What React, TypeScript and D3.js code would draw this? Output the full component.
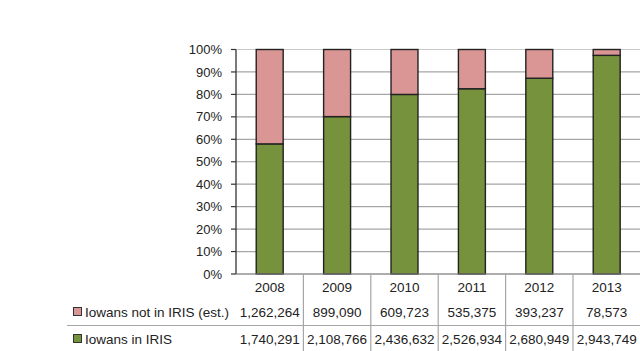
import React from 'react';
import * as d3 from 'd3';

const years = ['2008', '2009', '2010', '2011', '2012', '2013'];
const notInIris = [1262264, 899090, 609723, 535375, 393237, 78573];
const inIris = [1740291, 2108766, 2436632, 2526934, 2680949, 2943749];
const seriesNames = ['Iowans not in IRIS (est.)', 'Iowans in IRIS'];
const yTicks = [0, 0.1, 0.2, 0.3, 0.4, 0.5, 0.6, 0.7, 0.8, 0.9, 1];

const WIDTH = 640;
const HEIGHT = 351;
const GREEN = '#76923c';
const PINK = '#d99694';
const GRID = '#a6a6a6';
const FONT = '"Liberation Sans", Arial, sans-serif';

const App: React.FC = () => {
  const plot = { left: 236, right: 640.4, top: 49.5, bottom: 274 };

  const rows = years.map((year, i) => ({ year, inIris: inIris[i], notInIris: notInIris[i] }));
  const stack = d3
    .stack<{ year: string; inIris: number; notInIris: number }>()
    .keys(['inIris', 'notInIris'])
    .offset(d3.stackOffsetExpand);
  const layers = stack(rows);

  const x = d3
    .scaleBand<string>()
    .domain(years)
    .range([plot.left, plot.right])
    .paddingInner(0.6)
    .paddingOuter(0.3);
  const step = x.step();
  const y = d3.scaleLinear().domain([0, 1]).range([plot.bottom, plot.top]);
  const fmtPct = d3.format('.0%');
  const fmtNum = d3.format(',');

  const cellLeft = (yr: string) => (x(yr) as number) - step * 0.3;
  const cellCenter = (yr: string) => (x(yr) as number) + x.bandwidth() / 2;

  const colors = [GREEN, PINK];

  // table rows
  const yearRowY = 287;
  const row1Y = 312;
  const row2Y = 339;
  const dividerY = 325.5;

  return (
    <svg
      width={WIDTH}
      height={HEIGHT}
      style={{ position: 'absolute', left: 0, top: 0, display: 'block', background: '#fff' }}
      fontFamily={FONT}
    >
      {/* gridlines */}
      {yTicks.map((t) => (
        <line
          key={`g${t}`}
          x1={plot.left}
          x2={WIDTH}
          y1={y(t)}
          y2={y(t)}
          stroke={t === 1 ? '#c8c8c8' : GRID}
          strokeWidth={1.2}
        />
      ))}

      {/* bars */}
      {layers.map((layer, li) =>
        layer.map((d) => (
          <rect
            key={`${li}-${d.data.year}`}
            x={x(d.data.year)}
            width={x.bandwidth()}
            y={y(d[1])}
            height={y(d[0]) - y(d[1])}
            fill={colors[li]}
            stroke="#222"
            strokeWidth={1.4}
          />
        ))
      )}

      {/* y axis */}
      <line x1={plot.left} x2={plot.left} y1={plot.top} y2={plot.bottom} stroke="#333" strokeWidth={1.3} />
      {yTicks.map((t) => (
        <g key={`t${t}`}>
          <line x1={plot.left - 5} x2={plot.left} y1={y(t)} y2={y(t)} stroke="#333" strokeWidth={1.2} />
          <text
            x={plot.left - 14}
            y={y(t)}
            dy="0.35em"
            textAnchor="end"
            fontSize={13}
            fill="#222"
          >
            {fmtPct(t)}
          </text>
        </g>
      ))}

      {/* x axis / table top */}
      <line x1={plot.left} x2={WIDTH} y1={plot.bottom} y2={plot.bottom} stroke="#888" strokeWidth={1.2} />

      {/* table vertical lines */}
      {years.slice(1).map((yr) => (
        <line
          key={`v${yr}`}
          x1={cellLeft(yr)}
          x2={cellLeft(yr)}
          y1={plot.bottom}
          y2={HEIGHT}
          stroke={GRID}
          strokeWidth={1.2}
        />
      ))}
      <line x1={67} x2={WIDTH} y1={dividerY} y2={dividerY} stroke={GRID} strokeWidth={1.2} />

      {/* year labels */}
      {years.map((yr) => (
        <text key={`y${yr}`} x={cellCenter(yr)} y={yearRowY} dy="0.35em" textAnchor="middle" fontSize={13.5} fill="#222">
          {yr}
        </text>
      ))}

      {/* legend keys and names */}
      {[PINK, GREEN].map((c, i) => (
        <g key={`l${i}`}>
          <rect
            x={73.5}
            y={(i === 0 ? row1Y : row2Y) - 4.5}
            width={8}
            height={8}
            fill={c}
            stroke="#333"
            strokeWidth={1}
          />
          <text x={85} y={i === 0 ? row1Y : row2Y} dy="0.35em" fontSize={13.5} fill="#222">
            {seriesNames[i]}
          </text>
        </g>
      ))}

      {/* values */}
      {years.map((yr, i) => (
        <g key={`d${yr}`}>
          <text x={cellCenter(yr)} y={row1Y} dy="0.35em" textAnchor="middle" fontSize={13.5} fill="#222">
            {fmtNum(notInIris[i])}
          </text>
          <text x={cellCenter(yr)} y={row2Y} dy="0.35em" textAnchor="middle" fontSize={13.5} fill="#222">
            {fmtNum(inIris[i])}
          </text>
        </g>
      ))}
    </svg>
  );
};

export default App;
